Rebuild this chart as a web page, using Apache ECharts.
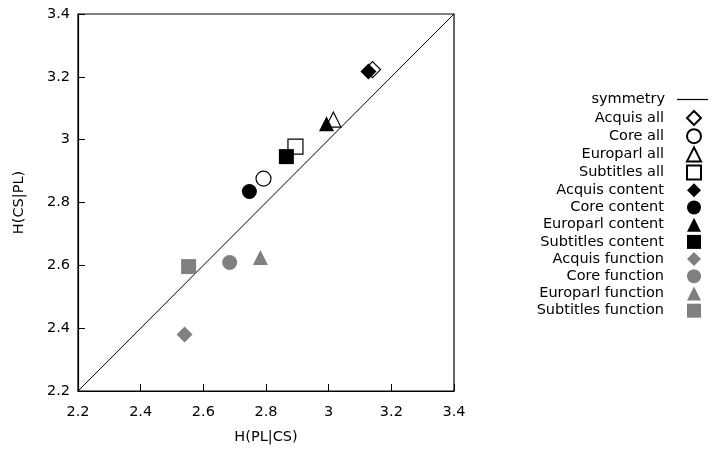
<!DOCTYPE html>
<html>
<head>
<meta charset="utf-8">
<script src="https://cdn.jsdelivr.net/npm/echarts@6/dist/echarts.min.js"></script>
<style>
html,body{margin:0;padding:0;background:#fff;}
#chart{width:713px;height:454px;}
</style>
</head>
<body>
<div id="chart"></div>
<script>
// ---- data ----
const seriesNames = [
  'Acquis all', 'Core all', 'Europarl all', 'Subtitles all',
  'Acquis content', 'Core content', 'Europarl content', 'Subtitles content',
  'Acquis function', 'Core function', 'Europarl function', 'Subtitles function'
];
const hPLgivenCS = [3.140, 2.792, 3.015, 2.894, 3.127, 2.747, 2.993, 2.865, 2.540, 2.684, 2.782, 2.553];
const hCSgivenPL = [3.223, 2.876, 3.064, 2.978, 3.217, 2.835, 3.051, 2.946, 2.380, 2.609, 2.625, 2.596];
const symmetryName = 'symmetry';
const symmetryX = [2.2, 3.4];
const symmetryY = [2.2, 3.4];
const axisMin = 2.2;
const axisMax = 3.4;
const tickStep = 0.2;
const xAxisName = 'H(PL|CS)';
const yAxisName = 'H(CS|PL)';

// ---- styles ----
const FONT = 'DejaVu Sans';
const FS = 14.5;
const shapes = ['diamond', 'circle', 'triangle', 'rect'];
const groupStyles = [
  { color: '#ffffff', borderColor: '#000000', borderWidth: 1.2 },
  { color: '#000000', borderColor: '#000000', borderWidth: 0 },
  { color: '#808080', borderColor: '#808080', borderWidth: 0 }
];

const series = [{
  name: symmetryName,
  type: 'line',
  data: symmetryX.map((x, i) => [x, symmetryY[i]]),
  symbol: 'none',
  showSymbol: false,
  lineStyle: { color: '#000', width: 1 },
  itemStyle: { color: '#000' },
  silent: true,
  z: 1
}];
seriesNames.forEach((name, i) => {
  const st = groupStyles[Math.floor(i / 4)];
  const shp = shapes[i % 4];
  series.push({
    name: name,
    type: 'scatter',
    data: [[hPLgivenCS[i], hCSgivenPL[i]]],
    symbol: shp,
    symbolSize: shp === 'diamond' ? 16 : 15,
    itemStyle: { color: st.color, borderColor: st.borderColor, borderWidth: st.borderWidth, opacity: 1 },
    z: 2
  });
});

const chart = echarts.init(document.getElementById('chart'), null, { renderer: 'canvas' });
chart.setOption({
  animation: false,
  backgroundColor: '#ffffff',
  textStyle: { fontFamily: FONT, color: '#000' },
  grid: {
    left: 78, top: 14, width: 376, height: 377,
    show: true, borderColor: '#000', borderWidth: 1.2, backgroundColor: 'transparent'
  },
  legend: [{
    data: [{ name: symmetryName, icon: 'path://M0,0L31,0L31,1.2L0,1.2Z', itemStyle: { color: '#000' } }],
    orient: 'vertical',
    align: 'right',
    right: 5, top: 92,
    padding: 0,
    itemWidth: 31, itemHeight: 14,
    selectedMode: false,
    textStyle: { fontFamily: FONT, fontSize: FS, color: '#000', lineHeight: 14, padding: [0, 7, 0, 0] }
  }, {
    data: seriesNames,
    orient: 'vertical',
    align: 'right',
    right: 11, top: 110,
    padding: 0,
    itemGap: 2.2,
    itemWidth: 14, itemHeight: 14,
    selectedMode: false,
    textStyle: { fontFamily: FONT, fontSize: FS, color: '#000', lineHeight: 14, padding: [0, 18, 0, 0] }
  }],
  xAxis: {
    type: 'value', min: axisMin, max: axisMax, interval: tickStep,
    name: xAxisName, nameLocation: 'middle', nameGap: 39,
    nameTextStyle: { fontFamily: FONT, fontSize: FS, color: '#000' },
    axisLine: { show: true, onZero: false, lineStyle: { color: '#000', width: 1.2 } },
    axisTick: { show: true, inside: true, length: 7, lineStyle: { color: '#000', width: 1 } },
    axisLabel: { fontFamily: FONT, fontSize: FS, color: '#000', margin: 14 },
    splitLine: { show: false }
  },
  yAxis: {
    type: 'value', min: axisMin, max: axisMax, interval: tickStep,
    name: yAxisName, nameLocation: 'middle', nameGap: 51,
    nameTextStyle: { fontFamily: FONT, fontSize: FS, color: '#000' },
    axisLine: { show: true, onZero: false, lineStyle: { color: '#000', width: 1.2 } },
    axisTick: { show: true, inside: true, length: 7, lineStyle: { color: '#000', width: 1 } },
    axisLabel: { fontFamily: FONT, fontSize: FS, color: '#000', margin: 8 },
    splitLine: { show: false }
  },
  series: series
});
</script>
</body>
</html>
